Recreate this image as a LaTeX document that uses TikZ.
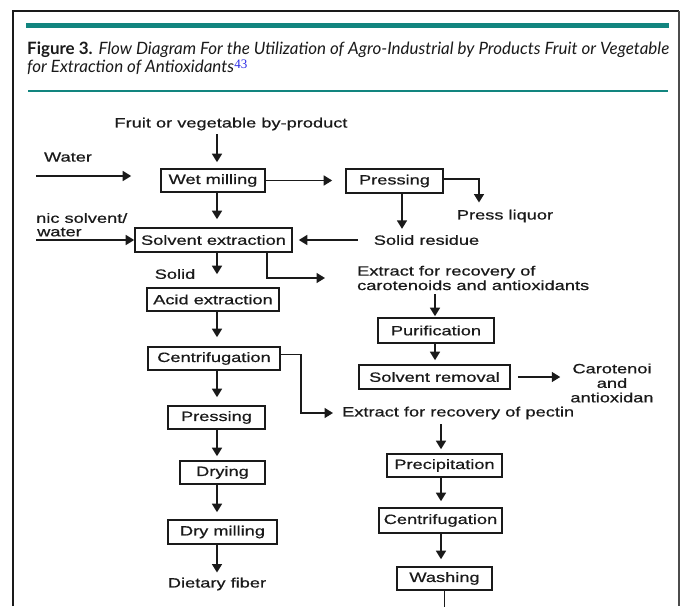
\documentclass[tikz,border=0pt]{standalone}
\usepackage{fontspec}
\usepackage{graphicx}
\usetikzlibrary{arrows.meta,calc}
\newfontfamily\diagfont[FakeStretch=1.35,FakeBold=0.6]{Liberation Sans}
\newfontfamily\capfont{Lato}
\newfontfamily\reffont{Liberation Serif}
\definecolor{tealbar}{HTML}{12857F}
\definecolor{ink}{HTML}{1A1A1A}
\definecolor{refblue}{HTML}{2B2BE6}
\newlength\capw
\newcommand\capfontsel{\capfont\fontsize{17}{19}\selectfont}
\newcommand\caplineone{{\bfseries Figure 3.} {\itshape Flow Diagram For the Utilization of Agro-Industrial by Products Fruit or Vegetable}}
\begin{document}
\settowidth\capw{\capfontsel\caplineone}%
\pgfmathsetmacro\capsx{642/\capw}%
\begin{tikzpicture}[x=1pt,y=-1pt,
  box/.style={draw=ink, line width=1.6pt, inner sep=0pt, text=ink,
    font=\diagfont\fontsize{13.5}{15}\selectfont},
  lbl/.style={inner sep=0pt, text=ink, font=\diagfont\fontsize{13.5}{14.5}\selectfont},
  arr/.style={draw=ink, line width=1.6pt, -{Triangle[length=8.5pt,width=10pt]}},
  ln/.style={draw=ink, line width=1.6pt},
  capnode/.style={anchor=base west, inner sep=0pt, text=ink}]
\useasboundingbox (0,0) rectangle (681,606);
\fill[white] (0,0) rectangle (681,606);
% frame
\draw[ink, line width=1.5pt] (13,606) -- (13,11) -- (679,11);
\draw[black!70, line width=1.5pt] (679,11) -- (679,606);
\fill[tealbar] (26,23) rectangle (669,28);
\draw[tealbar, line width=1.3pt] (28,91) -- (668,91);
% caption
\node[capnode, text depth=2pt] (cap1) at (27,54)
  {\scalebox{\capsx}[1]{\capfontsel\caplineone}};
\node[capnode, text height=10pt] (cap2) at (27,72.5)
  {\scalebox{\capsx}[1]{\capfontsel\itshape for Extraction of Antioxidants}};
\node[anchor=base west, inner sep=0pt, text=refblue,
  font=\reffont\fontsize{13}{14}\selectfont] (ref) at (cap2.base east) [yshift=4pt] {43};
% diagram
\begin{scope}
\clip (36,100) rectangle (656,606);
\coordinate (colL) at (217,0);
\coordinate (colA) at (402,0);
\coordinate (colE) at (267,0);
\coordinate (colR) at (435,0);
\coordinate (colP) at (441,0);
% boxes
\node[box, minimum width=104pt, minimum height=23pt] (wet) at (213,180.5) {Wet milling};
\node[box, minimum width=97pt, minimum height=24pt] (press1) at (394.5,181) {Pressing};
\node[box, minimum width=157pt, minimum height=24pt] (solv) at (213.5,240) {Solvent extraction};
\node[box, minimum width=132pt, minimum height=23pt] (acid) at (213,299.5) {Acid extraction};
\node[box, minimum width=132pt, minimum height=23pt] (cent1) at (214,358.5) {Centrifugation};
\node[box, minimum width=97pt, minimum height=23pt] (press2) at (216.5,417.5) {Pressing};
\node[box, minimum width=85pt, minimum height=23pt] (dry) at (222.5,472.5) {Drying};
\node[box, minimum width=109pt, minimum height=24pt] (drym) at (222.5,532) {Dry milling};
\node[box, minimum width=116pt, minimum height=25pt] (purif) at (436,330.5) {Purification};
\node[box, minimum width=151pt, minimum height=24pt] (solrem) at (434.5,377) {Solvent removal};
\node[box, minimum width=115pt, minimum height=23pt] (precip) at (444.5,465.5) {Precipitation};
\node[box, minimum width=123pt, minimum height=25pt] (cent2) at (440.5,520.5) {Centrifugation};
\node[box, minimum width=95pt, minimum height=23pt] (wash) at (444.5,578.5) {Washing};
% labels
\node[lbl] (fruit) at (231,124) {Fruit or vegetable by-product};
\node[lbl] (water) at (68,157) {Water};
\node[lbl] (liquor) at (505,216) {Press liquor};
\node[lbl] (residue) at (426.5,240) {Solid residue};
\node[lbl, anchor=west] (orgsol) at (36,218) {nic solvent/};
\node[lbl, anchor=west] (orgwat) at (37,232) {water};
\node[lbl] (solid) at (175,274) {Solid};
\node[lbl, anchor=west, align=left] (carot) at (357,278) {Extract for recovery of\\carotenoids and antioxidants};
\node[lbl, anchor=west] (pectin) at (342,413) {Extract for recovery of pectin};
\node[lbl, align=center] (out) at (612,383) {Carotenoi\\and\\antioxidan};
\node[lbl] (fiber) at (217,584) {Dietary fiber};
\coordinate (wsrc) at (36,176);
\coordinate (osrc) at (36,240);
\coordinate (wend) at (444.5,610);
% connectors
\draw[arr, shorten <=4pt, shorten >=6pt] (fruit.south -| colL) -- (wet.north -| colL);
\draw[arr, shorten >=29pt] (wsrc) -- (wsrc -| wet.west);
\draw[arr, shorten >=13pt] (wet.east) -- (wet.east -| press1.west);
\draw[arr, shorten >=7pt] ($(press1.east)+(0,-2)$) -| ($(liquor.north)+(-26,0)$);
\draw[arr, shorten >=6pt] (press1.south -| colA) -- (residue.north -| colA);
\draw[arr, shorten <=16pt, shorten >=6pt] (residue.west) -- (residue.west -| solv.east);
\draw[arr, shorten >=8pt] (wet.south -| colL) -- (solv.north -| colL);
\draw[arr] (osrc) -- (solv.west);
\draw[arr, shorten >=13pt] (solv.south -| colL) -- (acid.north -| colL);
\draw[arr, shorten >=32pt] (solv.south -| colE) |- (carot.west);
\draw[arr, shorten <=4pt, shorten >=1pt] (carot.south -| colR) -- (purif.north -| colR);
\draw[arr, shorten >=4pt] (purif.south -| colR) -- (solrem.north -| colR);
\draw[arr, shorten <=7pt, shorten >=10pt] (solrem.east) -- (solrem.east -| out.west);
\draw[arr, shorten >=9pt] (acid.south -| colL) -- (cent1.north -| colL);
\draw[arr, shorten >=9pt] ($(cent1.east)+(0,-4)$) -- ++(20,0) |- (pectin.west);
\draw[arr, shorten >=8pt] (cent1.south -| colL) -- (press2.north -| colL);
\draw[arr, shorten >=4pt] (press2.south -| colL) -- (dry.north -| colL);
\draw[arr, shorten >=7pt] (dry.south -| colL) -- (drym.north -| colL);
\draw[arr, shorten >=5pt] (drym.south -| colL) -- (fiber.north -| colL);
\draw[arr, shorten <=5pt, shorten >=4pt] (pectin.south -| colP) -- (precip.north -| colP);
\draw[arr, shorten >=6pt] (precip.south -| colP) -- (cent2.north -| colP);
\draw[arr, shorten >=7pt] (cent2.south -| colP) -- (wash.north -| colP);
\draw[ln] (wash.south) -- (wend);
\end{scope}
\end{tikzpicture}
\end{document}
